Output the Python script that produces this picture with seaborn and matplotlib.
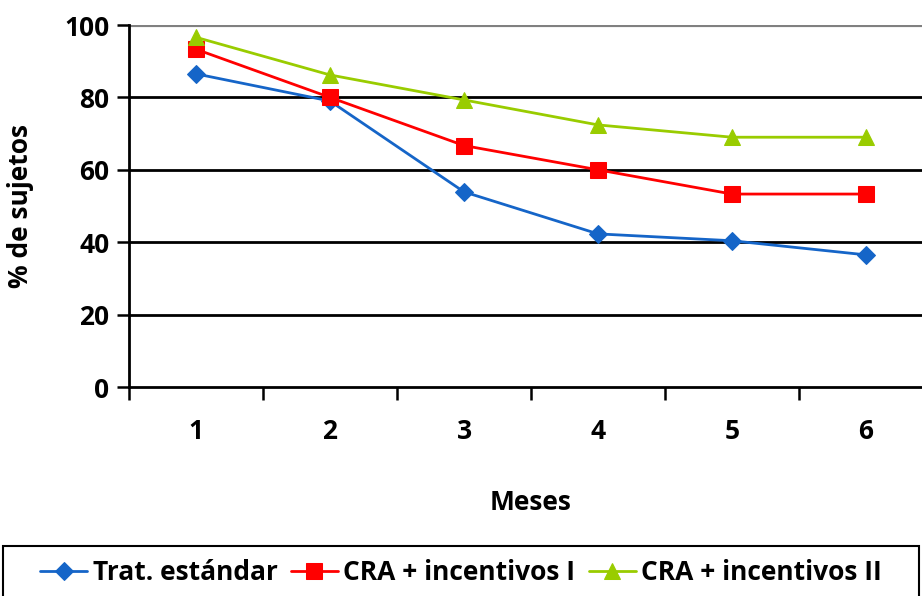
import numpy as np
import pandas as pd
import seaborn as sns
import matplotlib.pyplot as plt
from matplotlib.ticker import FixedLocator
from matplotlib.patches import Rectangle

meses = [1, 2, 3, 4, 5, 6]
trat_estandar = [86.5, 79.0, 53.9, 42.3, 40.4, 36.5]
cra_inc_1 = [93.3, 80.0, 66.7, 60.0, 53.3, 53.3]
cra_inc_2 = [96.6, 86.2, 79.3, 72.4, 69.0, 69.0]
series_names = ["Trat. estándar", "CRA + incentivos I", "CRA + incentivos II"]

colors = ["#1565C8", "#FF0000", "#99CC00"]
markers = ["D", "s", "^"]
msizes = [9, 11, 12]

sns.set_theme(style="white")
plt.rcParams["font.family"] = ["Open Sans", "DejaVu Sans"]
plt.rcParams["font.weight"] = "bold"
plt.rcParams["text.color"] = "black"
plt.rcParams["axes.labelcolor"] = "black"
plt.rcParams["xtick.color"] = "black"
plt.rcParams["ytick.color"] = "black"

fig = plt.figure(figsize=(9.22, 5.96), dpi=100)
# plot area from px x=129..933, y=25..387
ax = fig.add_axes([129 / 922, 1 - 387 / 596, 804 / 922, 362 / 596])

for name, vals, c, m, ms in zip(series_names, [trat_estandar, cra_inc_1, cra_inc_2], colors, markers, msizes):
    sns.lineplot(x=meses, y=vals, ax=ax, color=c, marker=m, markersize=ms,
                 markeredgecolor=c, linewidth=2, label=name)

ax.set_xlim(0.5, 6.5)
ax.set_ylim(0, 100)
ax.set_yticks([0, 20, 40, 60, 80, 100])
for yv in [20, 40, 60, 80]:
    ax.axhline(yv, color="black", linewidth=2, zorder=0)
ax.axhline(100, color="#808080", linewidth=3, zorder=0)

ax.set_xticks(meses)
ax.xaxis.set_minor_locator(FixedLocator(np.arange(0.5, 7, 1)))
ax.tick_params(axis="x", which="major", length=0, pad=22, labelsize=19, labelcolor="black")
ax.tick_params(axis="x", which="minor", length=9, width=1.8, color="black", bottom=True)
ax.tick_params(axis="y", which="major", length=9, width=1.8, color="black", left=True, labelsize=19, pad=5,
               labelcolor="black")
for lbl in ax.get_xticklabels() + ax.get_yticklabels():
    lbl.set_fontweight("bold")

for side in ["top", "right"]:
    ax.spines[side].set_visible(False)
for side in ["left", "bottom"]:
    ax.spines[side].set_color("black")
    ax.spines[side].set_linewidth(2)

ax.set_xlabel("Meses", fontsize=19, fontweight="bold", labelpad=32, color="black")
ax.set_ylabel("% de sujetos", fontsize=19, fontweight="bold", labelpad=22, color="black")

ax.get_legend().remove()
handles, labels = ax.get_legend_handles_labels()
fig.patches.append(Rectangle((3 / 922, -0.01), 916 / 922, 56 / 596, transform=fig.transFigure,
                             facecolor="none", edgecolor="black", linewidth=1.5))
leg = fig.legend(handles, labels, loc="center", bbox_to_anchor=(461 / 922, 1 - 573 / 596),
                 ncol=3, fontsize=19, frameon=False,
                 handlelength=1.8, handletextpad=0.2, columnspacing=0.5, borderaxespad=0)
for t in leg.get_texts():
    t.set_fontweight("bold")
    t.set_color("black")

fig.savefig("out.png", dpi=100)
